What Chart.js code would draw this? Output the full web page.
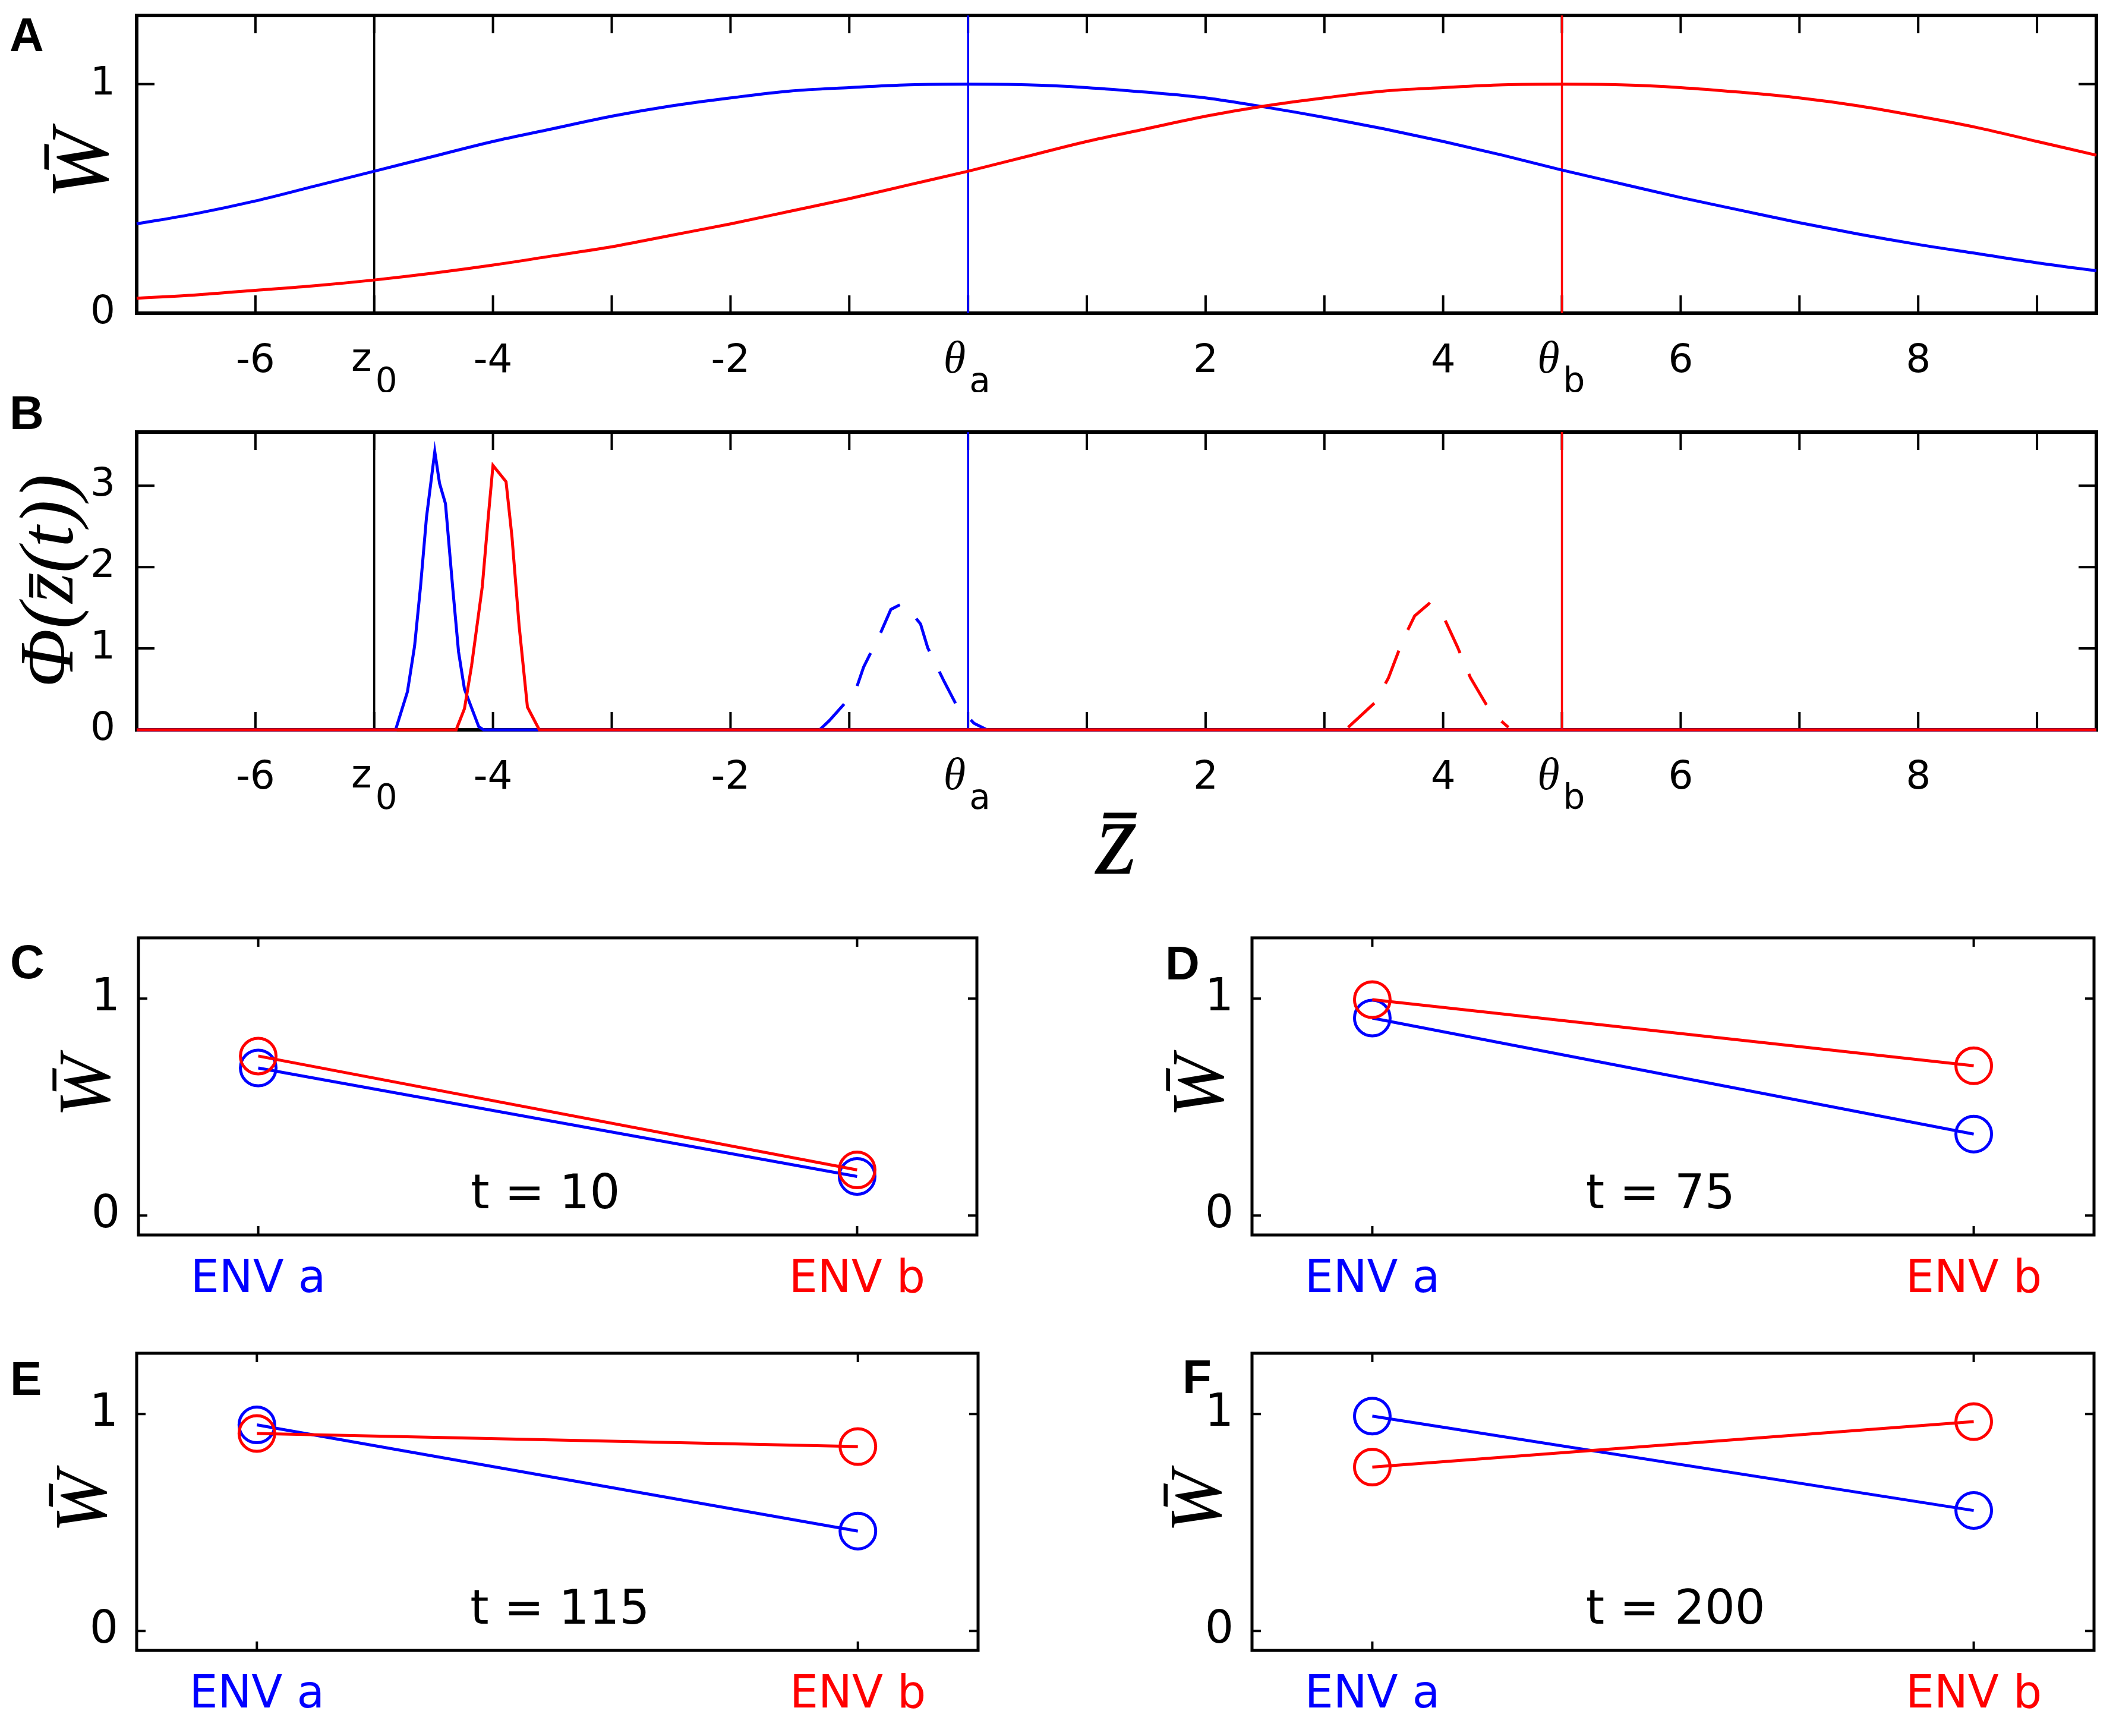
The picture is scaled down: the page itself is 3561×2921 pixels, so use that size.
<!DOCTYPE html>
<html>
<head>
<meta charset="utf-8">
<script src="https://cdn.jsdelivr.net/npm/chart.js@4.4.1/dist/chart.umd.min.js"></script>
<style>
  html, body { margin: 0; padding: 0; background: #fff; }
  body { position: relative; width: 3561px; height: 2921px; overflow: hidden; }
  canvas { position: absolute; }
  .lbl { position: absolute; font: bold 80px 'Liberation Sans', Arial, sans-serif; line-height: 80px; color: #000; }
</style>
</head>
<body>
<canvas id="chartA" width="3561" height="660" style="left:0;top:0"></canvas>
<canvas id="chartB" width="3561" height="880" style="left:0;top:660px"></canvas>
<canvas id="chartC" width="1780" height="720" style="left:0;top:1500px"></canvas>
<canvas id="chartD" width="1781" height="720" style="left:1780px;top:1500px"></canvas>
<canvas id="chartE" width="1780" height="721" style="left:0;top:2200px"></canvas>
<canvas id="chartF" width="1781" height="721" style="left:1780px;top:2200px"></canvas>
<div class="lbl" style="left:16px;top:19px">A</div>
<div class="lbl" style="left:16px;top:655px">B</div>
<div class="lbl" style="left:17px;top:1579px">C</div>
<div class="lbl" style="left:1961px;top:1581px">D</div>
<div class="lbl" style="left:17px;top:2280px">E</div>
<div class="lbl" style="left:1990px;top:2277px">F</div>
<script>
var BLUE = '#0000ff';
var RED = '#ff0000';

// panel A: mean fitness against mean trait, one curve per environment
var zGrid = [-7, -6.5, -6, -5.5, -5, -4.5, -4, -3.5, -3, -2.5, -2, -1.5, -1, -0.5, 0, 0.5,
             1, 1.5, 2, 2.5, 3, 3.5, 4, 4.5, 5, 5.5, 6, 6.5, 7, 7.5, 8, 8.5, 9, 9.5];
var wEnvA = [0.39, 0.435, 0.49, 0.555, 0.62, 0.685, 0.75, 0.805, 0.86, 0.905, 0.94, 0.97, 0.985, 0.997, 1.0, 0.997,
             0.985, 0.965, 0.94, 0.90, 0.855, 0.805, 0.75, 0.69, 0.625, 0.565, 0.505, 0.45, 0.395, 0.345, 0.30, 0.26, 0.22, 0.185];
var wEnvB = [0.065, 0.08, 0.10, 0.12, 0.145, 0.175, 0.21, 0.25, 0.29, 0.34, 0.39, 0.445, 0.50, 0.56, 0.62, 0.685,
             0.75, 0.805, 0.86, 0.905, 0.94, 0.97, 0.985, 0.997, 1.0, 0.997, 0.985, 0.965, 0.94, 0.905, 0.86, 0.81, 0.75, 0.69];

// marked trait values
var z0 = -5, thetaA = 0, thetaB = 5;

// panel B: trait distributions (solid = start, dashed = later)
var phiBlueZ = [-7, -4.82, -4.72, -4.66, -4.61, -4.56, -4.49, -4.45, -4.40, -4.34, -4.29, -4.24, -4.12, -4.08, 9.5];
var phiBlue  = [0, 0, 0.47, 1.03, 1.76, 2.61, 3.42, 3.03, 2.78, 1.76, 0.96, 0.5, 0.04, 0, 0];
var phiRedZ  = [-7, -4.31, -4.24, -4.18, -4.09, -4.04, -4.00, -3.89, -3.84, -3.78, -3.71, -3.61, 9.5];
var phiRed   = [0, 0, 0.26, 0.79, 1.76, 2.61, 3.25, 3.05, 2.37, 1.28, 0.28, 0, 0];
var phiBlueLaterZ = [-1.25, -1.17, -0.95, -0.88, -0.74, -0.65, -0.57, -0.52, -0.40, -0.34, -0.20, -0.10, 0.05, 0.16];
var phiBlueLater  = [0, 0.11, 0.47, 0.77, 1.18, 1.48, 1.54, 1.52, 1.30, 1.01, 0.59, 0.31, 0.08, 0];
var phiRedLaterZ  = [3.20, 3.43, 3.54, 3.66, 3.76, 3.88, 4.00, 4.12, 4.23, 4.40, 4.55];
var phiRedLater   = [0.03, 0.34, 0.64, 1.10, 1.40, 1.55, 1.40, 1.02, 0.64, 0.22, 0.03];

// shared x axis of A and B
var zMin = -7, zMax = 9.5;
var zTickMarks = [-6, -5, -4, -3, -2, -1, 0, 1, 2, 3, 4, 5, 6, 7, 8, 9];
var zTickValues = [-6, -5, -4, -2, 0, 2, 4, 5, 6, 8];
var zTickMain = ['-6', 'z', '-4', '-2', 'θ', '2', '4', 'θ', '6', '8'];
var zTickSub  = ['', '0', '', '', 'a', '', '', 'b', '', ''];

var wRange = [0, 1.3];
var wTicks = [0, 1];
var phiRange = [0, 3.66];
var phiTicks = [0, 1, 2, 3];

// panels C-F: mean fitness in each environment at four times
var envLabels = ['ENV a', 'ENV b'];
var envColors = [BLUE, RED];
var envPos = [1, 2];
var timeLabels = ['t = 10', 't = 75', 't = 115', 't = 200'];
var wBlueAtT = [[0.68, 0.18], [0.91, 0.375], [0.95, 0.46], [0.99, 0.555]];
var wRedAtT  = [[0.735, 0.21], [0.995, 0.69], [0.91, 0.85], [0.755, 0.965]];
var envRange = [0.8, 2.2];
var envWRange = [-0.09, 1.28];
var timeLabelAt = [1.355, 0.09];

Chart.defaults.font.family = "'DejaVu Sans', sans-serif";
Chart.defaults.color = '#000';

function pts(xs, ys) {
  return xs.map(function (x, i) { return { x: x, y: ys[i] }; });
}

// box round the plot area and inward ticks on all four sides
var framePlugin = {
  id: 'frame',
  beforeDatasetsDraw: function (chart, args, opts) {
    var a = chart.chartArea, ctx = chart.ctx;
    var xs = chart.scales.x, ys = chart.scales.y;
    ctx.save();
    ctx.strokeStyle = '#000';
    ctx.lineWidth = opts.tickWidth;
    ctx.beginPath();
    xs.ticks.forEach(function (t) {
      var px = xs.getPixelForValue(t.value);
      ctx.moveTo(px, a.bottom); ctx.lineTo(px, a.bottom - opts.tickLen);
      ctx.moveTo(px, a.top); ctx.lineTo(px, a.top + opts.tickLen);
    });
    ys.ticks.forEach(function (t) {
      var py = ys.getPixelForValue(t.value);
      ctx.moveTo(a.left, py); ctx.lineTo(a.left + opts.tickLen, py);
      ctx.moveTo(a.right, py); ctx.lineTo(a.right - opts.tickLen, py);
    });
    ctx.stroke();
    ctx.lineWidth = opts.lineWidth;
    ctx.strokeRect(a.left, a.top, a.right - a.left, a.bottom - a.top);
    ctx.restore();
  }
};

// tick labels with a subscript (z0, theta_a, theta_b)
var subLabelPlugin = {
  id: 'subLabels',
  afterDraw: function (chart) {
    var xs = chart.scales.x, ctx = chart.ctx;
    var y = chart.chartArea.bottom + 80;
    ctx.save();
    ctx.fillStyle = '#000';
    ctx.textBaseline = 'middle';
    zTickValues.forEach(function (v, i) {
      if (!zTickSub[i]) return;
      var px = xs.getPixelForValue(v);
      ctx.font = zTickMain[i] === 'θ' ? "italic 76px 'Liberation Serif'" : "66px 'DejaVu Sans'";
      ctx.textAlign = 'right';
      ctx.fillText(zTickMain[i], px - 4, y);
      ctx.font = "58px 'DejaVu Sans'";
      ctx.textAlign = 'left';
      ctx.fillText(zTickSub[i], px + 2, y + 38);
    });
    ctx.restore();
  }
};

var timeLabelPlugin = {
  id: 'timeLabel',
  afterDatasetsDraw: function (chart, args, opts) {
    var ctx = chart.ctx;
    ctx.save();
    ctx.font = "80px 'DejaVu Sans'";
    ctx.fillStyle = '#000';
    ctx.textAlign = 'left';
    ctx.textBaseline = 'middle';
    ctx.fillText(opts.text, chart.scales.x.getPixelForValue(timeLabelAt[0]),
                 chart.scales.y.getPixelForValue(timeLabelAt[1]));
    ctx.restore();
  }
};

function vline(x, range, color) {
  return {
    data: [{ x: x, y: range[0] }, { x: x, y: range[1] }],
    borderColor: color, borderWidth: 3.5, pointRadius: 0, order: 5
  };
}

function curve(data, color, extra) {
  var d = { data: data, borderColor: color, borderWidth: 5, pointRadius: 0, tension: 0, clip: false };
  for (var k in extra) d[k] = extra[k];
  return d;
}

function zAxis(height, title) {
  return {
    type: 'linear', min: zMin, max: zMax,
    grid: { display: false, drawTicks: false }, border: { display: false },
    afterBuildTicks: function (s) { s.ticks = zTickMarks.map(function (v) { return { value: v }; }); },
    afterFit: function (s) { s.height = height; s.paddingLeft = 0; s.paddingRight = 0; },
    ticks: {
      padding: 42, font: { size: 66 }, maxRotation: 0, autoSkip: false,
      callback: function (v) {
        var i = zTickValues.indexOf(v);
        return i >= 0 && !zTickSub[i] ? zTickMain[i] : '';
      }
    },
    title: title || { display: false }
  };
}

function yAxis(range, ticks, width, title, fontSize, pad) {
  return {
    type: 'linear', min: range[0], max: range[1],
    grid: { display: false, drawTicks: false }, border: { display: false },
    afterBuildTicks: function (s) { s.ticks = ticks.map(function (v) { return { value: v }; }); },
    afterFit: function (s) { s.width = width; s.paddingTop = 0; s.paddingBottom = 0; },
    ticks: { padding: pad, font: { size: fontSize } },
    title: title
  };
}

var baseOpts = {
  responsive: false, animation: false, devicePixelRatio: 1,
  plugins: { legend: { display: false }, tooltip: { enabled: false } }
};

function opts(extra) {
  var o = JSON.parse(JSON.stringify(baseOpts));
  for (var k in extra) o[k] = extra[k];
  return o;
}

// panel A
new Chart(document.getElementById('chartA'), {
  type: 'line',
  data: {
    datasets: [
      curve(pts(zGrid, wEnvB), RED, { order: 0, cubicInterpolationMode: 'monotone' }),
      curve(pts(zGrid, wEnvA), BLUE, { order: 1, cubicInterpolationMode: 'monotone' }),
      vline(z0, wRange, '#000'),
      vline(thetaA, wRange, BLUE),
      vline(thetaB, wRange, RED)
    ]
  },
  options: opts({
    layout: { padding: { top: 26, right: 33, left: 0, bottom: 0 } },
    scales: {
      x: zAxis(133),
      y: yAxis(wRange, wTicks, 230, {
        display: true, text: 'W\u0304', padding: { top: 60, bottom: 0 },
        font: { family: "'Liberation Serif', serif", size: 140, style: 'italic' }
      }, 66, 36)
    },
    plugins: { legend: { display: false }, tooltip: { enabled: false },
               frame: { lineWidth: 6, tickLen: 30, tickWidth: 4 } }
  }),
  plugins: [framePlugin, subLabelPlugin]
});

// panel B
new Chart(document.getElementById('chartB'), {
  type: 'line',
  data: {
    datasets: [
      curve(pts(phiRedZ, phiRed), RED, { order: 0 }),
      curve(pts(phiBlueZ, phiBlue), BLUE, { order: 1 }),
      curve(pts(phiRedLaterZ, phiRedLater), RED, { order: 2, borderDash: [60, 38] }),
      curve(pts(phiBlueLaterZ, phiBlueLater), BLUE, { order: 3, borderDash: [60, 38] }),
      vline(z0, phiRange, '#000'),
      vline(thetaA, phiRange, BLUE),
      vline(thetaB, phiRange, RED)
    ]
  },
  options: opts({
    layout: { padding: { top: 67, right: 33, left: 0, bottom: 0 } },
    scales: {
      x: zAxis(312, {
        display: true, text: 'z\u0304', padding: { top: 0, bottom: 9 },
        font: { family: "'Liberation Serif', serif", size: 180, style: 'italic' }
      }),
      y: yAxis(phiRange, phiTicks, 230, {
        display: true, text: 'Φ(z\u0304(t))', padding: { top: 10, bottom: 0 },
        font: { family: "'Liberation Serif', serif", size: 130, style: 'italic' }
      }, 66, 36)
    },
    plugins: { legend: { display: false }, tooltip: { enabled: false },
               frame: { lineWidth: 6, tickLen: 30, tickWidth: 4 } }
  }),
  plugins: [framePlugin, subLabelPlugin]
});

// panels C-F
function envPanel(id, k, box) {
  new Chart(document.getElementById(id), {
    type: 'line',
    data: {
      datasets: [
        { data: pts(envPos, wRedAtT[k]), borderColor: RED, borderWidth: 5, pointRadius: 30,
          pointBorderWidth: 5, pointBorderColor: RED, pointBackgroundColor: 'rgba(0,0,0,0)', clip: false, order: 0 },
        { data: pts(envPos, wBlueAtT[k]), borderColor: BLUE, borderWidth: 5, pointRadius: 30,
          pointBorderWidth: 5, pointBorderColor: BLUE, pointBackgroundColor: 'rgba(0,0,0,0)', clip: false, order: 1 }
      ]
    },
    options: opts({
      layout: { padding: { top: box.top, right: box.right, left: 0, bottom: 0 } },
      scales: {
        x: {
          type: 'linear', min: envRange[0], max: envRange[1],
          grid: { display: false, drawTicks: false }, border: { display: false },
          afterBuildTicks: function (s) { s.ticks = envPos.map(function (v) { return { value: v }; }); },
          afterFit: function (s) { s.height = box.bottom; s.paddingLeft = 0; s.paddingRight = 0; },
          ticks: {
            padding: 31, font: { size: 76 }, maxRotation: 0, autoSkip: false,
            color: function (c) { return envColors[c.index]; },
            callback: function (v) { return envLabels[envPos.indexOf(v)]; }
          }
        },
        y: yAxis(envWRange, wTicks, box.left, {
          display: true, text: 'W\u0304', padding: { top: box.titlePad, bottom: 0 },
          font: { family: "'Liberation Serif', serif", size: 125, style: 'italic' }
        }, 76, 31)
      },
      plugins: { legend: { display: false }, tooltip: { enabled: false },
                 frame: { lineWidth: 5, tickLen: 15, tickWidth: 4 },
                 timeLabel: { text: timeLabels[k] } }
    }),
    plugins: [framePlugin, timeLabelPlugin]
  });
}

envPanel('chartC', 0, { left: 233, right: 136, top: 78, bottom: 142, titlePad: 76 });
envPanel('chartD', 1, { left: 327, right: 37, top: 78, bottom: 142, titlePad: 170 });
envPanel('chartE', 2, { left: 230, right: 134, top: 77, bottom: 144, titlePad: 70 });
envPanel('chartF', 3, { left: 327, right: 37, top: 77, bottom: 144, titlePad: 166 });
</script>
</body>
</html>
